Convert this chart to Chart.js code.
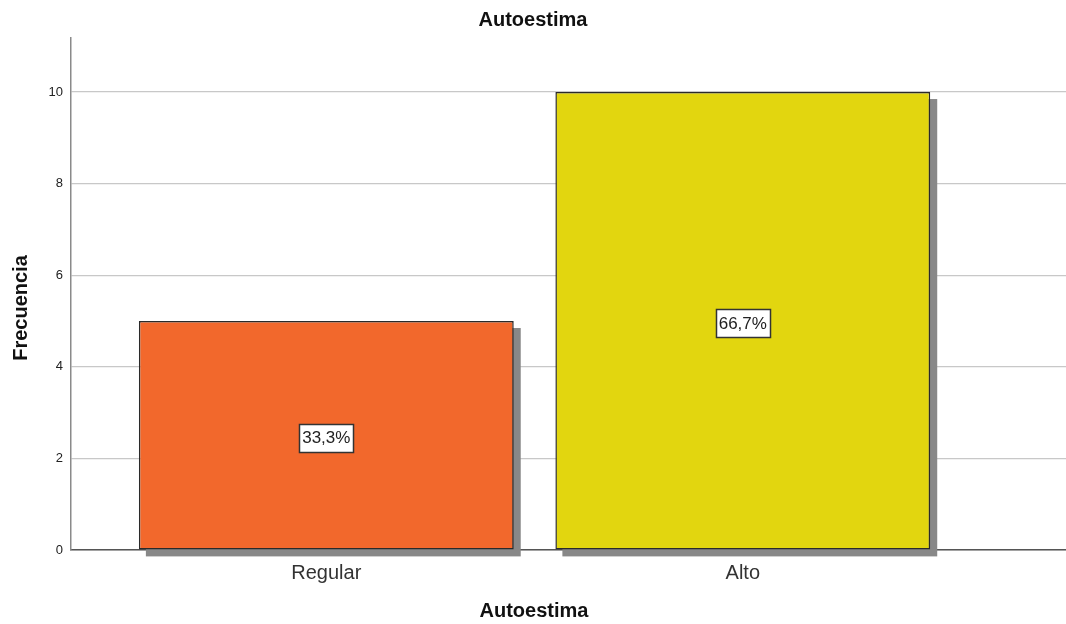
<!DOCTYPE html>
<html>
<head>
<meta charset="utf-8">
<script src="https://cdn.jsdelivr.net/npm/chart.js@4/dist/chart.umd.min.js"></script>
<style>
html,body{margin:0;padding:0;background:#fff;}
#wrap{width:1066px;height:624px;position:relative;}
</style>
</head>
<body>
<div id="wrap"><canvas id="c" width="1066" height="624"></canvas></div>
<script>
const categories = ['Regular', 'Alto'];
const frequencies = [5, 10];
const percentLabels = ['33,3%', '66,7%'];
const yTicks = [0, 2, 4, 6, 8, 10];
const barColors = ['#F2682C', '#E2D60F'];
const chartTitle = 'Autoestima';
const xTitle = 'Autoestima';
const yTitle = 'Frecuencia';

const FONT = '"Liberation Sans", Arial, sans-serif';

const shadowPlugin = {
  id: 'barShadow',
  beforeDatasetsDraw(chart) {
    const ctx = chart.ctx;
    const meta = chart.getDatasetMeta(0);
    ctx.save();
    ctx.fillStyle = '#888888';
    meta.data.forEach(el => {
      const p = el.getProps(['x', 'y', 'base', 'width'], true);
      const left = p.x - p.width / 2;
      ctx.fillRect(left + 7, p.y + 7, p.width, p.base - p.y);
    });
    ctx.restore();
  }
};

const labelPlugin = {
  id: 'pctLabels',
  afterDatasetsDraw(chart) {
    const ctx = chart.ctx;
    const meta = chart.getDatasetMeta(0);
    ctx.save();
    ctx.font = '17px ' + FONT;
    ctx.textAlign = 'center';
    ctx.textBaseline = 'middle';
    meta.data.forEach((el, i) => {
      const p = el.getProps(['x', 'y', 'base'], true);
      const cx = p.x;
      const cy = (p.y + p.base) / 2 + 2.5;
      const txt = percentLabels[i];
      const w = Math.round(ctx.measureText(txt).width + 6);
      const h = 28;
      const bx = Math.round(cx - w / 2) + 0.5;
      const by = Math.round(cy - h / 2) + 0.5;
      ctx.fillStyle = '#ffffff';
      ctx.fillRect(bx, by, w, h);
      ctx.strokeStyle = '#333333';
      ctx.lineWidth = 1.5;
      ctx.strokeRect(bx, by, w, h);
      ctx.fillStyle = '#222222';
      ctx.fillText(txt, cx, cy + 1);
    });
    ctx.restore();
  }
};

const axisTitlePlugin = {
  id: 'axisTitles',
  afterDraw(chart) {
    const ctx = chart.ctx;
    ctx.save();
    ctx.font = 'bold 20px ' + FONT;
    ctx.fillStyle = '#111111';
    ctx.textAlign = 'center';
    ctx.textBaseline = 'middle';
    ctx.fillText(xTitle, chart.width / 2 + 1, 611);
    ctx.translate(21, 308);
    ctx.rotate(-Math.PI / 2);
    ctx.fillText(yTitle, 0, 0);
    ctx.restore();
  }
};

new Chart(document.getElementById('c'), {
  type: 'bar',
  data: {
    datasets: [{
      data: categories.map((c, i) => ({ x: i + 1, y: frequencies[i] })),
      backgroundColor: barColors,
      borderColor: '#2a2a2a',
      borderWidth: 1.5,
      borderSkipped: false,
      barPercentage: 0.9,
      categoryPercentage: 1.0
    }]
  },
  options: {
    responsive: false,
    animation: false,
    devicePixelRatio: 1,
    layout: { padding: { left: 0, right: 0, top: 0, bottom: 0 } },
    plugins: {
      legend: { display: false },
      tooltip: { enabled: false },
      title: {
        display: true,
        text: chartTitle,
        color: '#111111',
        font: { family: FONT, size: 20, weight: 'bold', lineHeight: 1.2 },
        padding: { top: 8, bottom: 6 }
      }
    },
    scales: {
      x: {
        type: 'linear',
        offset: false,
        min: 0.387,
        max: 2.776,
        afterBuildTicks(scale) { scale.ticks = categories.map((c, i) => ({ value: i + 1 })); },
        afterFit(scale) { scale.height = 74; },
        grid: { display: false, drawTicks: false, offset: false },
        border: { display: true, color: '#555555', width: 1.5 },
        ticks: {
          padding: 11,
          color: '#333333',
          font: { family: FONT, size: 20 },
          callback: (v) => categories[v - 1]
        },
        title: { display: false }
      },
      y: {
        min: 0,
        max: 11.18,
        afterBuildTicks(scale) { scale.ticks = yTicks.map(v => ({ value: v })); },
        afterFit(scale) { scale.width = 71; },
        grid: { color: '#c8c8c8', lineWidth: 1.2, drawTicks: false },
        border: { display: true, color: '#8a8a8a', width: 1.5 },
        ticks: {
          padding: 8,
          color: '#222222',
          font: { family: FONT, size: 13 }
        },
        title: { display: false }
      }
    }
  },
  plugins: [shadowPlugin, labelPlugin, axisTitlePlugin]
});
</script>
</body>
</html>
